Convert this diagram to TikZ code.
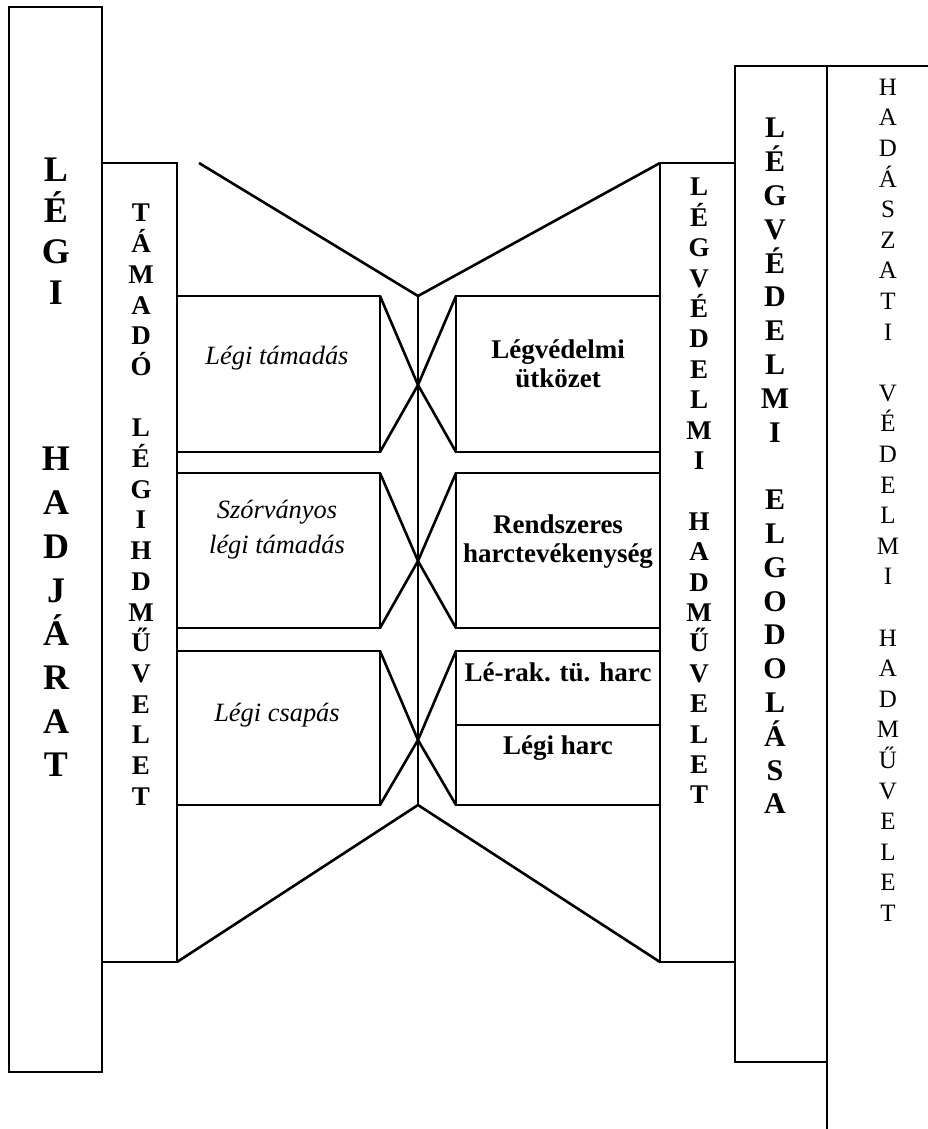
\documentclass[tikz,border=0pt]{standalone}
\usepackage{fontspec}
\setmainfont{Liberation Serif}

\tikzset{
  frame/.style={line width=2.6pt},
  letter/.style={inner sep=0pt, text depth=0pt},
  biglet/.style={letter, text height=23.8pt, font=\fontsize{36}{36}\selectfont\bfseries},
  midlet/.style={letter, text height=17.9pt, font=\fontsize{27}{27}\selectfont\bfseries},
  widelet/.style={letter, text height=19.9pt, font=\fontsize{30}{30}\selectfont\bfseries},
  thinlet/.style={letter, text height=16.5pt, font=\fontsize{25}{25}\selectfont},
  kind/.style={align=center, inner sep=0pt, font=\fontsize{26.4}{35}\selectfont\itshape},
  fight/.style={align=center, inner sep=0pt, font=\fontsize{27}{29}\selectfont\bfseries}
}

\begin{document}
\begin{tikzpicture}[x=1pt,y=-1pt]
\useasboundingbox (0,0) rectangle (928,1129);

% columns
\draw[frame] (9,7) rectangle (102,1072);
\draw[frame] (102,163) rectangle (177,962);
\draw[frame] (660,163) rectangle (735,962);
\draw[frame] (735,66) rectangle (827,1062);
\draw[frame] (928,66) -- (827,66) -- (827,1129);

% middle funnel
\coordinate (apex) at (418,296);
\coordinate (foot) at (418,805);
\draw[frame] (199,163) -- (apex) -- (660,163);
\draw[frame] (177,962) -- (foot) -- (660,962);
\draw[frame] (apex) -- (foot);

\foreach \ya/\yb/\ym [count=\r] in {296/452/385, 473/628/561, 651/805/740}{
  \draw[frame] (177,\ya) -- (380,\ya) -- (380,\yb) -- (177,\yb);
  \draw[frame] (660,\ya) -- (456,\ya) -- (456,\yb) -- (660,\yb);
  \coordinate (x\r) at (418,\ym);
  \draw[frame] (380,\ya) -- (x\r) -- (456,\ya);
  \draw[frame] (380,\yb) -- (x\r) -- (456,\yb);
}
\draw[frame] (456,725) -- (660,725);

% box texts
\node[kind] (tam) at (277,358) {Légi támadás};
\node[kind] (szor) at (277,530) {Szórványos\\légi támadás};
\node[kind] (csap) at (277,715) {Légi csapás};
\node[fight] (utk) at (558,364) {Légvédelmi\\ütközet};
\node[fight] (rend) at (558,542) {Rendszeres\\harctevékenység};
\node[fight] (lerak) at (558,672) {Lé-rak. tü. harc};
\node[fight] (harc) at (558,748) {Légi harc};

% vertical letters
\foreach \ch [count=\k from 0] in {L,É,G,I}
  \node[biglet] (lh-\k) at (56,{170+41*\k}) {\ch};
\foreach \ch [count=\k from 0] in {H,A,D,J,Á,R,A,T}
  \node[biglet] (hj-\k) at (56,{459+43.7*\k}) {\ch};

\foreach \ch [count=\k from 0] in {T,Á,M,A,D,Ó}
  \node[midlet] (ta-\k) at (141,{213+30.7*\k}) {\ch};
\foreach \ch [count=\k from 7] in {L,É,G,I,H,D,M,Ű,V,E,L,E,T}
  \node[midlet] (lg-\k) at (141,{213+30.7*\k}) {\ch};

\foreach \ch [count=\k from 0] in {L,É,G,V,É,D,E,L,M,I}
  \node[midlet] (lv-\k) at (699,{187+30.4*\k}) {\ch};
\foreach \ch [count=\k from 11] in {H,A,D,M,Ű,V,E,L,E,T}
  \node[midlet] (hm-\k) at (699,{187+30.4*\k}) {\ch};

\foreach \ch [count=\k from 0] in {L,É,G,V,É,D,E,L,M,I}
  \node[widelet] (le-\k) at (775,{128+33.8*\k}) {\ch};
\foreach \ch [count=\k from 11] in {E,L,G,O,D,O,L,Á,S,A}
  \node[widelet] (el-\k) at (775,{128+33.8*\k}) {\ch};

\foreach \ch [count=\k from 0] in {H,A,D,Á,S,Z,A,T,I}
  \node[thinlet] (hd-\k) at (888,{87+30.6*\k}) {\ch};
\foreach \ch [count=\k from 10] in {V,É,D,E,L,M,I}
  \node[thinlet] (vd-\k) at (888,{87+30.6*\k}) {\ch};
\foreach \ch [count=\k from 18] in {H,A,D,M,Ű,V,E,L,E,T}
  \node[thinlet] (hv-\k) at (888,{87+30.6*\k}) {\ch};
\end{tikzpicture}
\end{document}
